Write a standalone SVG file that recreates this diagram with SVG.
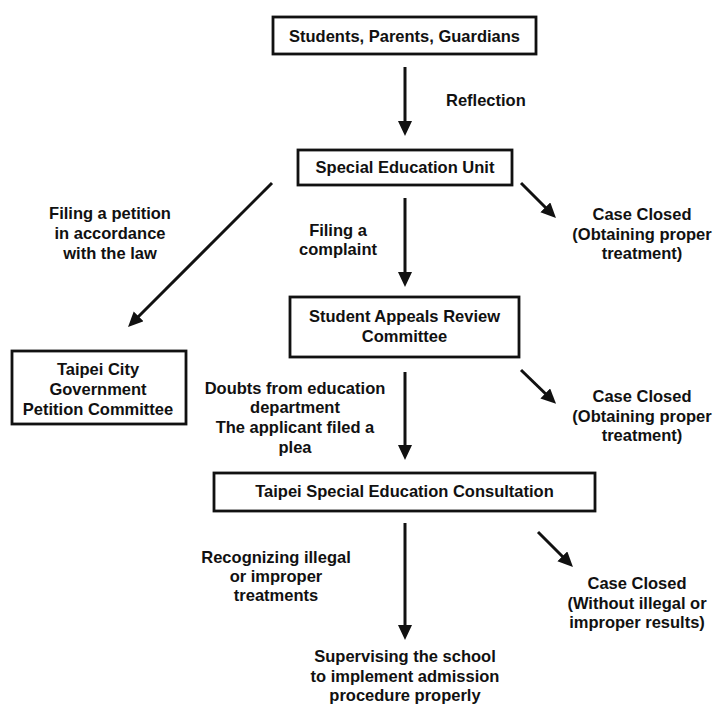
<svg xmlns="http://www.w3.org/2000/svg" width="713" height="707" viewBox="0 0 713 707">
<style>
text{font-family:"Liberation Sans",Arial,Helvetica,sans-serif;font-weight:bold;font-size:16.5px;fill:#111;text-anchor:middle}
.box{fill:#fff;stroke:#111;stroke-width:2.8}
.conn{stroke:#111;stroke-width:3;fill:none;marker-end:url(#ah)}
.lbl{}
</style>
<defs>
<marker id="ah" markerUnits="userSpaceOnUse" markerWidth="16" markerHeight="15" refX="8" refY="7" orient="auto" viewBox="0 0 16 15">
<path d="M0,0 L15,7 L0,14 z" fill="#111"/>
</marker>
</defs>
<rect width="713" height="707" fill="#fff"/>
<g id="connectors">
<line class="conn" x1="405" y1="67" x2="405" y2="129"/>
<line class="conn" x1="405" y1="198" x2="405" y2="280"/>
<line class="conn" x1="405" y1="372" x2="405" y2="453"/>
<line class="conn" x1="405" y1="523" x2="405" y2="633"/>
<line class="conn" x1="272" y1="183" x2="133" y2="322"/>
<line class="conn" x1="521" y1="183" x2="551" y2="213"/>
<line class="conn" x1="521" y1="370" x2="551" y2="399"/>
<line class="conn" x1="538" y1="532" x2="568" y2="562"/>
</g>
<g id="labels">
<text x="446" y="106" style="text-anchor:start">Reflection</text>
<text x="110" y="219">Filing a petition</text>
<text x="110" y="239">in accordance</text>
<text x="110" y="259">with the law</text>
<text x="338" y="236">Filing a</text>
<text x="338" y="255">complaint</text>
<text x="295" y="394">Doubts from education</text>
<text x="295" y="413">department</text>
<text x="295" y="433">The applicant filed a</text>
<text x="295" y="453">plea</text>
<text x="276" y="563">Recognizing illegal</text>
<text x="276" y="582">or improper</text>
<text x="276" y="601">treatments</text>
</g>
<g id="n-students">
<rect class="box" x="273" y="17" width="263" height="37"/>
<text x="404.5" y="42">Students, Parents, Guardians</text>
</g>
<g id="n-seu">
<rect class="box" x="298" y="150" width="214" height="35"/>
<text x="405" y="173">Special Education Unit</text>
</g>
<g id="n-closed1">
<text x="642" y="220">Case Closed</text>
<text x="642" y="240">(Obtaining proper</text>
<text x="642" y="259">treatment)</text>
</g>
<g id="n-sarc">
<rect class="box" x="290" y="297" width="229" height="60"/>
<text x="404.5" y="322">Student Appeals Review</text>
<text x="404.5" y="342">Committee</text>
</g>
<g id="n-tcgpc">
<rect class="box" x="12" y="351" width="174" height="73"/>
<text x="98" y="375">Taipei City</text>
<text x="98" y="395">Government</text>
<text x="98" y="415">Petition Committee</text>
</g>
<g id="n-closed2">
<text x="642" y="402">Case Closed</text>
<text x="642" y="422">(Obtaining proper</text>
<text x="642" y="441">treatment)</text>
</g>
<g id="n-tsec">
<rect class="box" x="214" y="473" width="381" height="38"/>
<text x="404.5" y="497">Taipei Special Education Consultation</text>
</g>
<g id="n-closed3">
<text x="637" y="589">Case Closed</text>
<text x="637" y="609">(Without illegal or</text>
<text x="637" y="628">improper results)</text>
</g>
<g id="n-supervise">
<text x="405" y="662">Supervising the school</text>
<text x="405" y="682">to implement admission</text>
<text x="405" y="701">procedure properly</text>
</g>
</svg>
